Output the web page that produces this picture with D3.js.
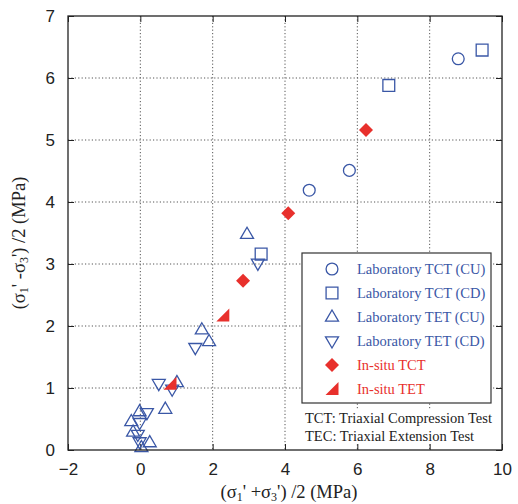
<!DOCTYPE html>
<html>
<head>
<meta charset="utf-8">
<script src="https://cdn.jsdelivr.net/npm/d3@7"></script>
<style>
body { margin: 0; background: #fff; }
.serif { font-family: "Liberation Serif", "Times New Roman", serif; }
</style>
</head>
<body>
<div id="chart"></div>
<script>
// data: [x, y] in MPa
var labTctCU = [[4.67, 4.19], [5.78, 4.51], [8.79, 6.31]];
var labTctCD = [[3.34, 3.16], [6.87, 5.88], [9.45, 6.45]];
var labTetCU = [[2.95, 3.48], [1.70, 1.94], [1.90, 1.75], [1.01, 1.09], [0.69, 0.66],
                [-0.02, 0.62], [-0.25, 0.46], [-0.20, 0.29], [0.26, 0.12], [0.03, 0.04]];
var labTetCD = [[3.25, 3.01], [1.52, 1.65], [0.51, 1.07], [0.88, 0.98], [0.18, 0.60],
                [-0.02, 0.44], [-0.07, 0.25], [-0.02, 0.13]];
var insituTCT = [[2.84, 2.73], [4.09, 3.82], [6.24, 5.16]];
var insituTET = [[0.82, 1.07], [2.28, 2.17]];

var xTicks = [-2, 0, 2, 4, 6, 8, 10];
var yTicks = [0, 1, 2, 3, 4, 5, 6, 7];
var legendLabels = ["Laboratory TCT (CU)", "Laboratory TCT (CD)", "Laboratory TET (CU)",
                    "Laboratory TET (CD)", "In-situ TCT", "In-situ TET"];
var notes = ["TCT: Triaxial Compression Test", "TEC: Triaxial Extension Test"];

var blue = "#3a57a6";
var red = "#e8302c";

var svgWidth = 518;
var svgHeight = 504;
var margin = { top: 16, bottom: 54, left: 68, right: 16 };
var width = svgWidth - margin.left - margin.right;
var height = svgHeight - margin.top - margin.bottom;

var svg = d3.select("#chart")
    .append("svg")
    .attr("width", svgWidth)
    .attr("height", svgHeight);

var chartGroup = svg.append("g")
    .attr("transform", `translate(${margin.left}, ${margin.top})`);

var x = d3.scaleLinear().domain([-2, 10]).range([0, width]);
var y = d3.scaleLinear().domain([0, 7]).range([height, 0]);

// dotted grid
chartGroup.selectAll(".gx")
    .data(xTicks.filter(d => d > -2 && d < 10))
    .enter().append("line")
    .attr("x1", d => x(d)).attr("x2", d => x(d))
    .attr("y1", 0).attr("y2", height)
    .attr("stroke", "#555").attr("stroke-width", 1)
    .attr("stroke-dasharray", "1.2,2.2");

chartGroup.selectAll(".gy")
    .data(yTicks.filter(d => d > 0 && d < 7))
    .enter().append("line")
    .attr("x1", 0).attr("x2", width)
    .attr("y1", d => y(d)).attr("y2", d => y(d))
    .attr("stroke", "#555").attr("stroke-width", 1)
    .attr("stroke-dasharray", "1.2,2.2");

// axes with inward ticks on all sides
var fmt = d3.format("d");
var bottomAxis = d3.axisBottom(x).tickValues(xTicks).tickFormat(fmt).tickSizeInner(-6).tickSizeOuter(0).tickPadding(13);
var leftAxis = d3.axisLeft(y).tickValues(yTicks).tickFormat(fmt).tickSizeInner(-6).tickSizeOuter(0).tickPadding(13);
var topAxis = d3.axisTop(x).tickValues(xTicks).tickSizeInner(-6).tickSizeOuter(0).tickFormat("");
var rightAxis = d3.axisRight(y).tickValues(yTicks).tickSizeInner(-6).tickSizeOuter(0).tickFormat("");

function styleAxis(g) {
    g.attr("font-family", "'Liberation Sans', Arial, sans-serif").attr("font-size", 17);
    g.select(".domain").remove();
    g.selectAll(".tick line").attr("stroke", "#222");
    g.selectAll(".tick text").attr("fill", "#222");
}

chartGroup.append("g").attr("transform", `translate(0, ${height})`).call(bottomAxis).call(styleAxis);
chartGroup.append("g").call(leftAxis).call(styleAxis);
chartGroup.append("g").call(topAxis).call(styleAxis);
chartGroup.append("g").attr("transform", `translate(${width}, 0)`).call(rightAxis).call(styleAxis);

// legend box and white area behind the notes
var lg = chartGroup.append("g");
var boxX = 302 - margin.left, boxY = 253 - margin.top;
lg.append("rect")
    .attr("x", boxX).attr("y", boxY)
    .attr("width", 189).attr("height", 150)
    .attr("fill", "#fff").attr("stroke", "#333").attr("stroke-width", 1.2);
lg.append("rect")
    .attr("x", boxX).attr("y", 410 - margin.top)
    .attr("width", 192).attr("height", 34)
    .attr("fill", "#fff");

// marker shapes
var circlePath = d3.symbol().type(d3.symbolCircle).size(110)();
var squarePath = d3.symbol().type(d3.symbolSquare).size(140)();
var triUp = "M0,-7L6.5,4.2L-6.5,4.2Z";
var triDown = "M0,7L6.5,-4.2L-6.5,-4.2Z";
var diamond = "M0,-7L7,0L0,7L-7,0Z";
var rightTri = "M-6.5,6L6.5,6L6.5,-7Z";

var series = [
    { data: labTctCU, path: circlePath, color: blue, fill: "none" },
    { data: labTctCD, path: squarePath, color: blue, fill: "none" },
    { data: labTetCU, path: triUp, color: blue, fill: "none" },
    { data: labTetCD, path: triDown, color: blue, fill: "none" },
    { data: insituTCT, path: diamond, color: red, fill: red },
    { data: insituTET, path: rightTri, color: red, fill: red }
];

series.forEach(function (s) {
    chartGroup.selectAll(null)
        .data(s.data)
        .enter()
        .append("path")
        .attr("d", s.path)
        .attr("transform", d => `translate(${x(d[0])}, ${y(d[1])})`)
        .attr("fill", s.fill)
        .attr("stroke", s.color)
        .attr("stroke-width", s.fill === "none" ? 1.3 : 0);
});

// legend entries
series.forEach(function (s, i) {
    var ly = 269 - margin.top + i * 24;
    lg.append("path")
        .attr("d", s.path)
        .attr("transform", `translate(${332 - margin.left}, ${ly})`)
        .attr("fill", s.fill)
        .attr("stroke", s.color)
        .attr("stroke-width", s.fill === "none" ? 1.3 : 0);
    lg.append("text")
        .attr("class", "serif")
        .attr("x", 357 - margin.left)
        .attr("y", ly + 5)
        .attr("font-size", "14.5px")
        .attr("fill", s.color)
        .text(legendLabels[i]);
});

notes.forEach(function (t, i) {
    lg.append("text")
        .attr("class", "serif")
        .attr("x", 305 - margin.left)
        .attr("y", 423 - margin.top + i * 18)
        .attr("font-size", "14.5px")
        .attr("fill", "#222")
        .text(t);
});

// frame
chartGroup.append("rect")
    .attr("width", width).attr("height", height)
    .attr("fill", "none").attr("stroke", "#222").attr("stroke-width", 1.3);

// axis titles
var xt = svg.append("text")
    .attr("class", "serif")
    .attr("x", 289).attr("y", 498)
    .attr("text-anchor", "middle")
    .attr("font-size", "18.5px")
    .attr("fill", "#222");
xt.append("tspan").text("(σ");
xt.append("tspan").attr("font-size", "12px").attr("dy", 3).text("1");
xt.append("tspan").attr("dy", -3).text("' +σ");
xt.append("tspan").attr("font-size", "12px").attr("dy", 3).text("3");
xt.append("tspan").attr("dy", -3).text("') /2 (MPa)");

var yt = svg.append("text")
    .attr("class", "serif")
    .attr("transform", "translate(25, 243) rotate(-90)")
    .attr("text-anchor", "middle")
    .attr("font-size", "18.5px")
    .attr("fill", "#222");
yt.append("tspan").text("(σ");
yt.append("tspan").attr("font-size", "12px").attr("dy", 3).text("1");
yt.append("tspan").attr("dy", -3).text("'  -σ");
yt.append("tspan").attr("font-size", "12px").attr("dy", 3).text("3");
yt.append("tspan").attr("dy", -3).text("') /2 (MPa)");
</script>
</body>
</html>
